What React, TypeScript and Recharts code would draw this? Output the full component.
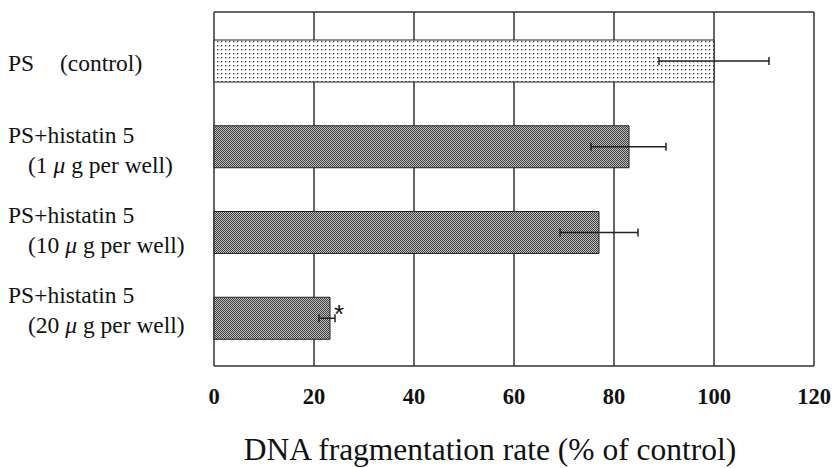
import React from 'react';
import { BarChart, Bar, XAxis, YAxis, CartesianGrid, ErrorBar, LabelList, Cell } from 'recharts';

// ---- data ----
const labelTop = ['PS', 'PS+histatin 5', 'PS+histatin 5', 'PS+histatin 5'];
const labelSub = ['(control)', '(1 μ g per well)', '(10 μ g per well)', '(20 μ g per well)'];
const values = [100, 83, 77, 23.2];
const errLow = [11, 7.6, 7.8, 2.2];
const errHigh = [11, 7.4, 7.8, 1.0];
const significant = [false, false, false, true];
const xTicks = [0, 20, 40, 60, 80, 100, 120];
const xTitle = 'DNA fragmentation rate (% of control)';

const data = values.map((v, i) => ({
  name: `${labelTop[i]} ${labelSub[i]}`,
  value: v,
  err: [errLow[i], errHigh[i]],
  sig: significant[i],
}));

// ---- style ----
const SERIF = '"Liberation Serif", "Times New Roman", Times, serif';
const LABEL_X = 8;
const SUB_X = 28;
const INLINE_SUB_X = 60;
const LABEL_DY = [10, -4, -9, -15];
const LINE_GAP = 30;

const renderSub = (s: string) => {
  const parts = s.split('μ');
  const out: React.ReactNode[] = [];
  parts.forEach((p, i) => {
    out.push(<tspan key={'p' + i}>{p}</tspan>);
    if (i < parts.length - 1) out.push(<tspan key={'m' + i} fontStyle="italic">μ</tspan>);
  });
  return out;
};

const CategoryTick = (props: any) => {
  const { y, index } = props;
  const base = y + LABEL_DY[index];
  const inline = index === 0;
  return (
    <g>
      <text x={LABEL_X} y={base} fontFamily={SERIF} fontSize={23.5} fill="#111" textAnchor="start">
        {labelTop[index]}
      </text>
      <text
        x={inline ? INLINE_SUB_X : SUB_X}
        y={inline ? base : base + LINE_GAP}
        fontFamily={SERIF}
        fontSize={23.5}
        fill="#111"
        textAnchor="start"
      >
        {renderSub(labelSub[index])}
      </text>
    </g>
  );
};

const ValueTick = (props: any) => {
  const { x, y, payload } = props;
  return (
    <text x={x} y={y + 30} fontFamily={SERIF} fontWeight="bold" fontSize={22.5} fill="#111" textAnchor="middle">
      {payload.value}
    </text>
  );
};

const TitleLabel = (props: any) => {
  const vb = props.viewBox || {};
  const cx = vb.x + vb.width / 2 - 24;
  const cy = vb.y + 94;
  return (
    <text x={cx} y={cy} fontFamily={SERIF} fontSize={31.5} fill="#111" textAnchor="middle">
      {xTitle}
    </text>
  );
};

const Star = (props: any) => {
  const { x, y, width, height, index } = props;
  if (!significant[index]) return null;
  return (
    <text
      x={x + width + 4}
      y={y + height / 2 + 5}
      fontFamily='"Liberation Sans", Arial, sans-serif'
      fontSize={26}
      fill="#111"
      textAnchor="start"
    >
      *
    </text>
  );
};

// top and bottom edges of the plot frame, taken from the chart's own layout
const frameRows = (p: any) => [p.offset.top, p.offset.top + p.offset.height];

export default function App() {
  return (
    <div style={{ position: 'absolute', left: 0, top: 0, width: 832, height: 468, background: '#fff' }}>
      <svg width={0} height={0} style={{ position: 'absolute' }}>
        <defs>
          <pattern id="dots" patternUnits="userSpaceOnUse" width={4} height={4}>
            <rect x={0} y={0} width={4} height={4} fill="#fff" />
            <rect x={1} y={1} width={1.3} height={1.3} fill="#333" />
          </pattern>
          <pattern id="hatch" patternUnits="userSpaceOnUse" width={2} height={2}>
            <rect x={0} y={0} width={2} height={2} fill="#bdbdbd" />
            <rect x={0} y={0} width={1} height={1} fill="#404040" />
            <rect x={1} y={1} width={1} height={1} fill="#404040" />
          </pattern>
        </defs>
      </svg>
      <BarChart
        width={832}
        height={468}
        data={data}
        layout="vertical"
        margin={{ top: 12, right: 18, bottom: 72, left: 0 }}
      >
        <CartesianGrid
          horizontal
          vertical
          stroke="#333"
          strokeWidth={1.5}
          horizontalCoordinatesGenerator={frameRows}
        />
        <XAxis
          type="number"
          domain={[0, 120]}
          ticks={xTicks}
          interval={0}
          axisLine={false}
          tickLine={false}
          height={30}
          tick={<ValueTick />}
          label={<TitleLabel />}
        />
        <YAxis
          type="category"
          dataKey="name"
          width={214}
          axisLine={false}
          tickLine={false}
          padding={{ top: 6, bottom: 5 }}
          tick={<CategoryTick />}
          interval={0}
        />
        <Bar dataKey="value" barSize={42} stroke="#222" strokeWidth={1} isAnimationActive={false}>
          {data.map((d, i) => (
            <Cell key={i} fill={i === 0 ? 'url(#dots)' : 'url(#hatch)'} />
          ))}
          <ErrorBar dataKey="err" direction="x" width={4} stroke="#222" strokeWidth={1.5} />
          <LabelList dataKey="value" content={<Star />} />
        </Bar>
      </BarChart>
    </div>
  );
}
